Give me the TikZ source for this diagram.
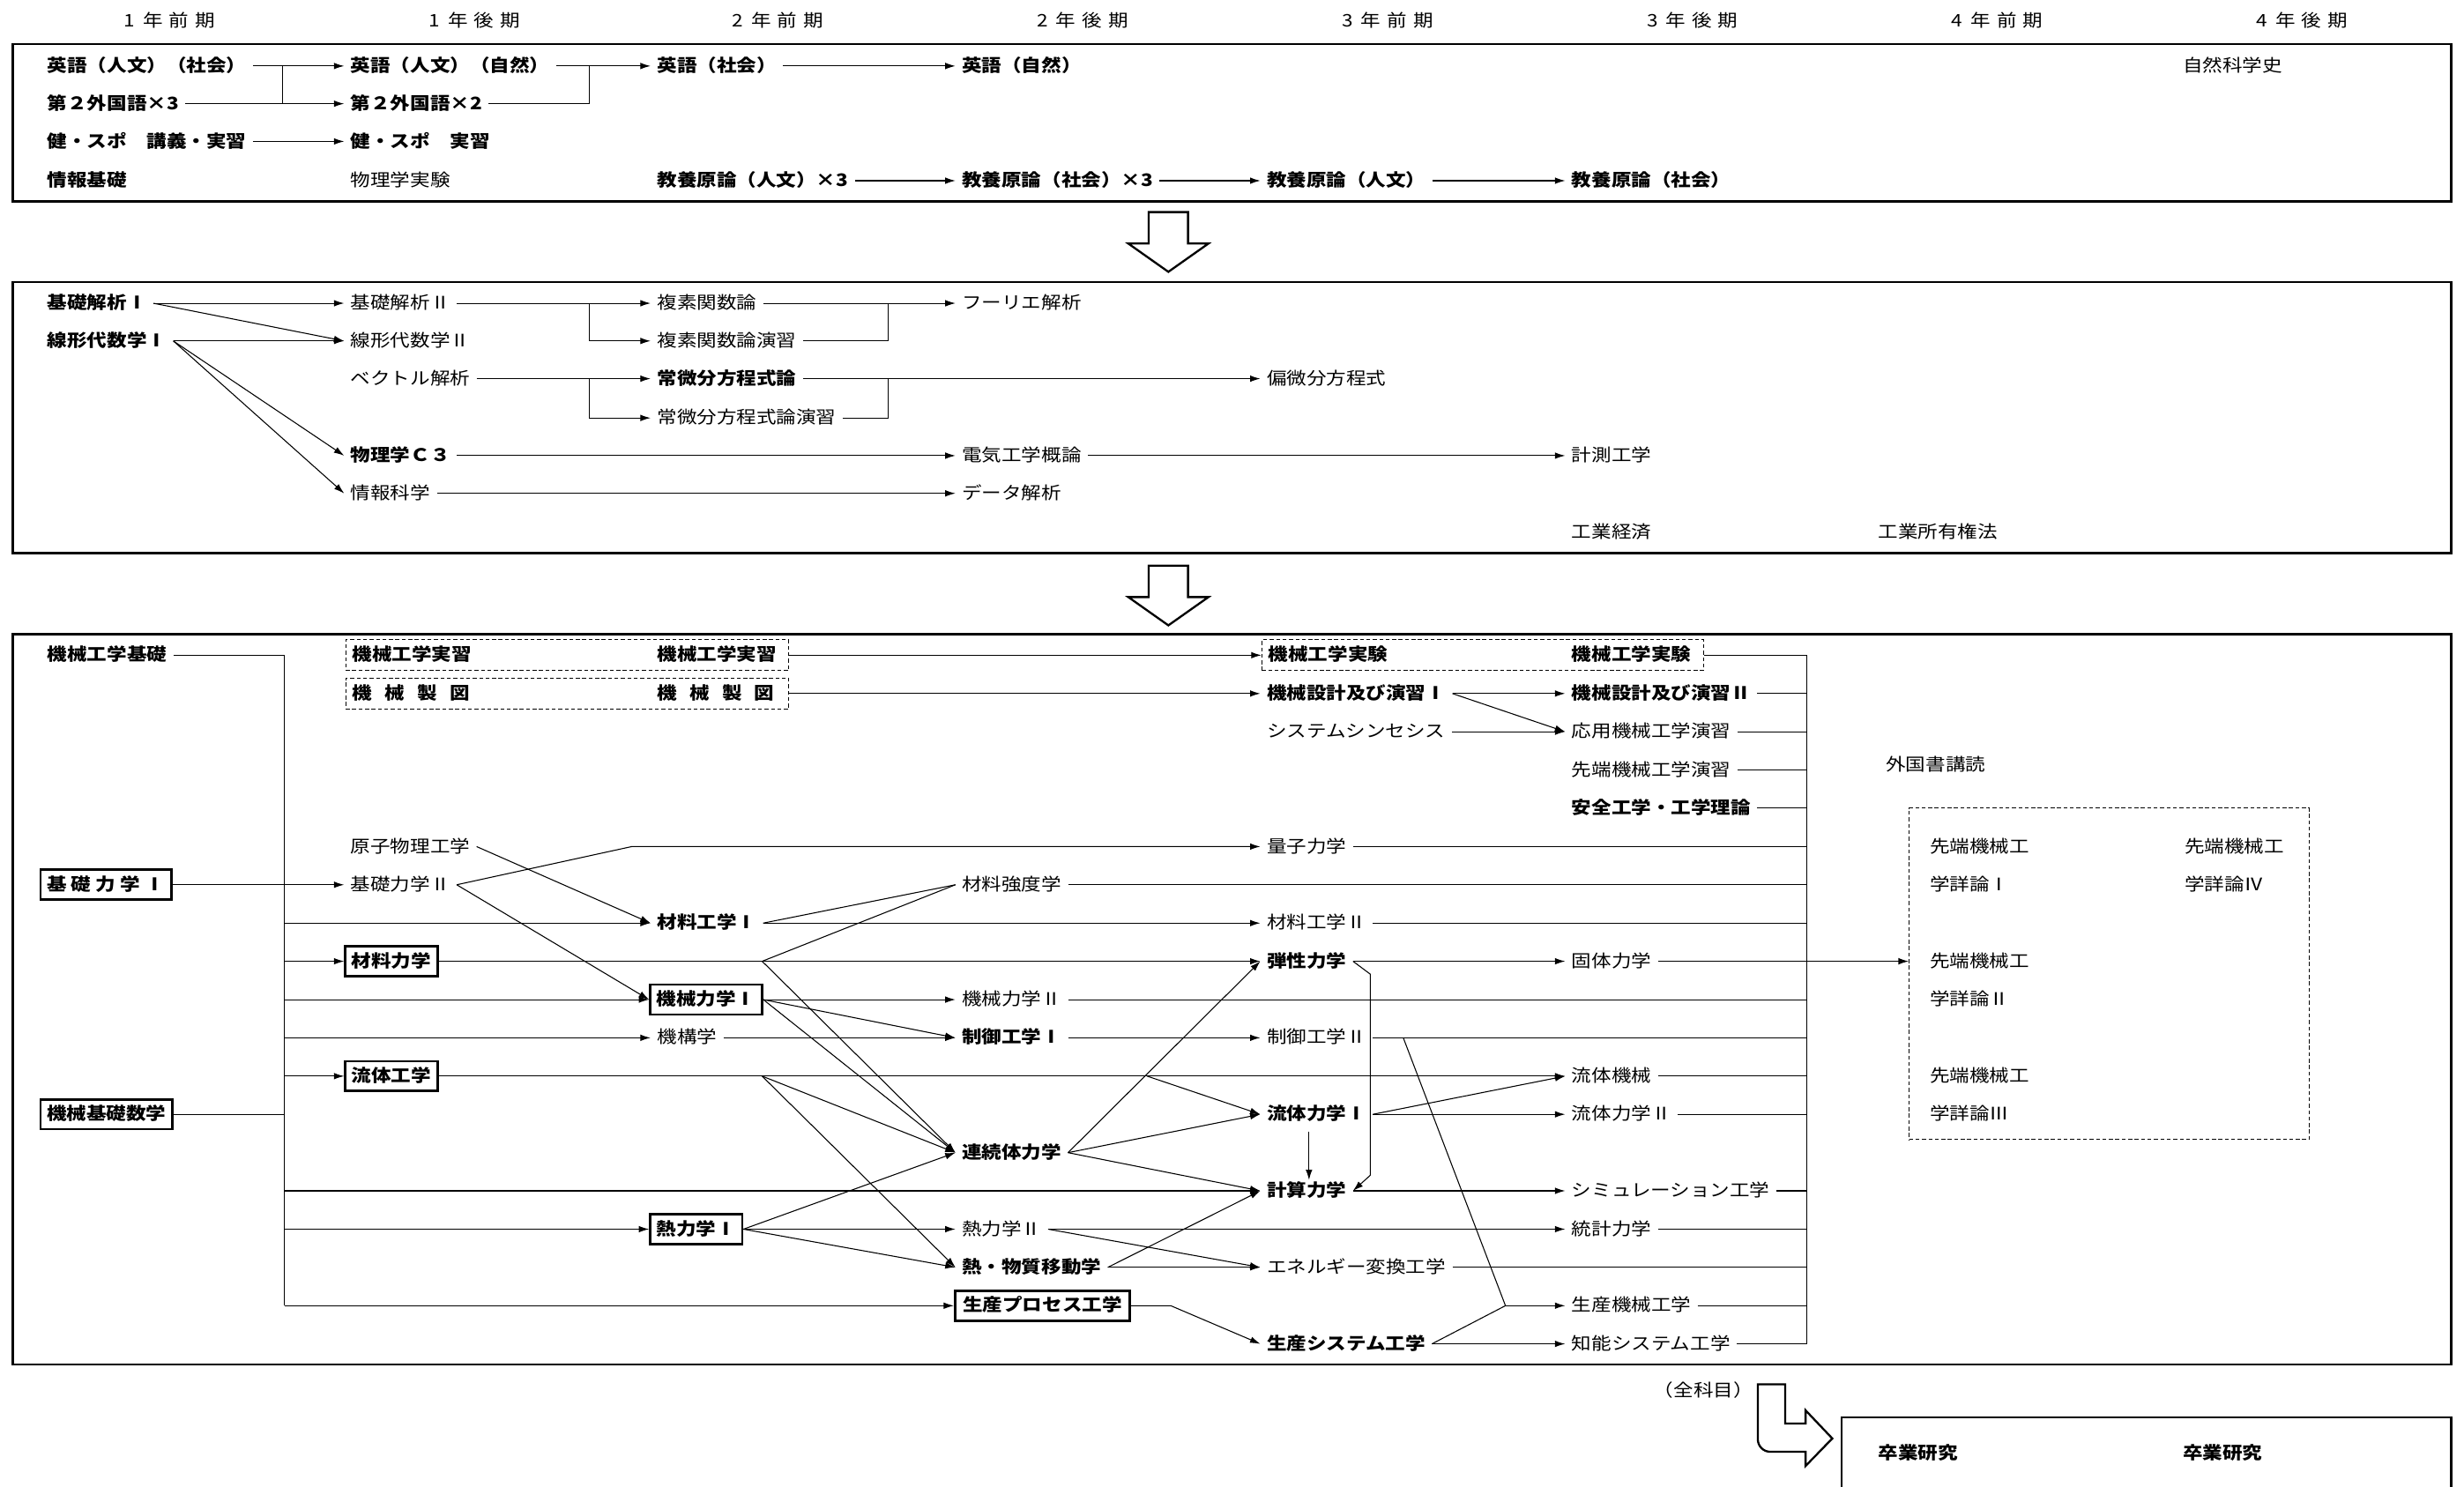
\documentclass[tikz,border=0pt]{standalone}
\usepackage{fontspec}
\usetikzlibrary{arrows.meta}
\newfontfamily\jpfam[FakeStretch=1.15]{Noto Sans CJK JP}
\newcommand\jpR{\jpfam\fontsize{11}{13}\selectfont}
\newcommand\jpB{\jpfam\bfseries\fontsize{11}{13}\selectfont}
\tikzset{
  reg/.style={font=\jpR, anchor=west, text height=9.4pt, text depth=2pt, inner xsep=4pt, inner ysep=0pt},
  bld/.style={reg, font=\jpB},
  bx/.style={bld, draw, line width=1.5pt, inner xsep=4pt, inner ysep=3.8pt},
  hdr/.style={font=\jpR, anchor=center, inner sep=0pt},
  ln/.style={line width=0.6pt},
  arr/.style={ln, -{Latex[length=6.5pt,width=4.2pt]}},
  frame/.style={line width=1.5pt},
  dbox/.style={draw, line width=0.6pt, dash pattern=on 2.5pt off 1.6pt, inner sep=0pt},
  hollow/.style={line width=1.3pt, line join=miter},
}
\begin{document}
\begin{tikzpicture}[x=1pt,y=-1pt]
\useasboundingbox (0,0) rectangle (1568,946);
\fill[white] (0,0) rectangle (1568,946);
% headers
\node[hdr] (h1) at (108,13) {1\hspace{5pt}年\hspace{4pt}前\hspace{4pt}期};
\node[hdr] (h2) at (302,13) {1\hspace{5pt}年\hspace{4pt}後\hspace{4pt}期};
\node[hdr] (h3) at (495,13) {2\hspace{5pt}年\hspace{4pt}前\hspace{4pt}期};
\node[hdr] (h4) at (689,13) {2\hspace{5pt}年\hspace{4pt}後\hspace{4pt}期};
\node[hdr] (h5) at (883,13) {3\hspace{5pt}年\hspace{4pt}前\hspace{4pt}期};
\node[hdr] (h6) at (1077,13) {3\hspace{5pt}年\hspace{4pt}後\hspace{4pt}期};
\node[hdr] (h7) at (1271,13) {4\hspace{5pt}年\hspace{4pt}前\hspace{4pt}期};
\node[hdr] (h8) at (1465,13) {4\hspace{5pt}年\hspace{4pt}後\hspace{4pt}期};
% frames
\draw[frame] (8,28) rectangle (1560,128);
\draw[frame] (8,179.5) rectangle (1560,352);
\draw[frame] (8,403.5) rectangle (1560,868.5);
\draw[frame] (1172,952) -- (1172,902) -- (1560,902) -- (1560,952);
% hollow arrows
\draw[hollow] (731,135) -- (756,135) -- (756,155) -- (769,155) -- (743.5,173) -- (718,155) -- (731,155) -- cycle;
\draw[hollow] (731,360) -- (756,360) -- (756,380) -- (769,380) -- (743.5,398) -- (718,380) -- (731,380) -- cycle;
\draw[hollow] (1149,924) [rounded corners=8pt] -- (1118.6,924) -- (1118.6,900) [sharp corners] -- (1118.6,881) -- (1136,881) -- (1136,906) -- (1149,906) -- (1149,897.6) -- (1166,915.5) -- (1149,933) -- cycle;
\node[reg, anchor=center] (zen) at (1084,885) {（全科目）};
\node[bld] (sot1) at (1191,925) {卒業研究};
\node[bld] (sot2) at (1385,925) {卒業研究};

% ===== box 1 =====
\node[bld] (e1) at (26,42) {英語（人文）（社会）};
\node[bld] (e2) at (219,42) {英語（人文）（自然）};
\node[bld] (e3) at (414,42) {英語（社会）};
\node[bld] (e4) at (608,42) {英語（自然）};
\node[reg] (shizen) at (1385,42) {自然科学史};
\node[bld] (gai3) at (26,66) {第２外国語×3};
\node[bld] (gai2) at (219,66) {第２外国語×2};
\node[bld] (ks1) at (26,90) {健・スポ　講義・実習};
\node[bld] (ks2) at (219,90) {健・スポ　実習};
\node[bld] (joho) at (26,115) {情報基礎};
\node[reg] (butsu) at (219,115) {物理学実験};
\node[bld] (ky1) at (414,115) {教養原論（人文）×3};
\node[bld] (ky2) at (608,115) {教養原論（社会）×3};
\node[bld] (ky3) at (802,115) {教養原論（人文）};
\node[bld] (ky4) at (996,115) {教養原論（社会）};
\coordinate (V5a) at (180,42);
\coordinate (V5b) at (180,66);
\coordinate (V6) at (375,42);
\draw[arr] (e1.east) -- (e2.west);
\draw[arr] (gai3.east) -- (gai2.west);
\draw[ln] (V5a) -- (V5b);
\draw[arr] (e2.east) -- (e3.west);
\draw[ln] (gai2.east) -| (V6);
\draw[arr] (e3.east) -- (e4.west);
\draw[arr] (ks1.east) -- (ks2.west);
\draw[arr] (ky1.east) -- (ky2.west);
\draw[arr] (ky2.east) -- (ky3.west);
\draw[arr] (ky3.east) -- (ky4.west);

% ===== box 2 =====
\node[bld] (ka1) at (26,193) {基礎解析Ⅰ};
\node[bld] (se1) at (26,217) {線形代数学Ⅰ};
\node[reg] (ka2) at (219,193) {基礎解析Ⅱ};
\node[reg] (se2) at (219,217) {線形代数学Ⅱ};
\node[reg] (vec) at (219,241) {ベクトル解析};
\node[bld] (phc) at (219,290) {物理学Ｃ３};
\node[reg] (jk) at (219,314) {情報科学};
\node[reg] (fk) at (414,193) {複素関数論};
\node[reg] (fke) at (414,217) {複素関数論演習};
\node[bld] (jb) at (414,241) {常微分方程式論};
\node[reg] (jbe) at (414,266) {常微分方程式論演習};
\node[reg] (fo) at (608,193) {フーリエ解析};
\node[reg] (den) at (608,290) {電気工学概論};
\node[reg] (data) at (608,314) {データ解析};
\node[reg] (hen) at (802,241) {偏微分方程式};
\node[reg] (kei) at (996,290) {計測工学};
\node[reg] (kk) at (996,339) {工業経済};
\node[reg] (kks) at (1191,339) {工業所有権法};
\coordinate (V1) at (375,193);
\coordinate (V2) at (565,193);
\coordinate (V3) at (375,241);
\coordinate (V4) at (565,241);
\draw[arr] (ka1.east) -- (ka2.west);
\draw[arr] (ka1.east) -- (se2.west);
\draw[arr] (se1.east) -- (se2.west);
\draw[arr] (se1.east) -- (phc.west);
\draw[arr] (se1.east) -- (jk.west);
\draw[arr] (ka2.east) -- (fk.west);
\draw[arr] (V1) |- (fke.west);
\draw[arr] (fk.east) -- (fo.west);
\draw[ln] (fke.east) -| (V2);
\draw[arr] (vec.east) -- (jb.west);
\draw[arr] (V3) |- (jbe.west);
\draw[arr] (jb.east) -- (hen.west);
\draw[ln] (jbe.east) -| (V4);
\draw[arr] (phc.east) -- (den.west);
\draw[arr] (den.east) -- (kei.west);
\draw[arr] (jk.east) -- (data.west);

% ===== box 3 =====
\node[bld] (kkk) at (26,417) {機械工学基礎};
\node[dbox, minimum width=282pt, minimum height=19.5pt] (db1) at (361,417) {};
\node[dbox, minimum width=282pt, minimum height=19.5pt] (db2) at (361,441.4) {};
\node[dbox, minimum width=281pt, minimum height=19.5pt] (db3) at (943.5,417) {};
\node[bld] (js1) at (220,417) {機械工学実習};
\node[bld] (js2) at (414,417) {機械工学実習};
\node[bld] (sz1) at (220,441.4) {機\hspace{8pt}械\hspace{8pt}製\hspace{8pt}図};
\node[bld] (sz2) at (414,441.4) {機\hspace{8pt}械\hspace{8pt}製\hspace{8pt}図};
\node[bld] (jk1) at (803,417) {機械工学実験};
\node[bld] (jk2) at (996,417) {機械工学実験};
\node[bld] (sk1) at (802,441.4) {機械設計及び演習Ⅰ};
\node[bld] (sk2) at (996,441.4) {機械設計及び演習Ⅱ};
\node[reg] (sys) at (802,465.7) {システムシンセシス};
\node[reg] (ouyou) at (996,465.7) {応用機械工学演習};
\node[reg] (sentanE) at (996,490.1) {先端機械工学演習};
\node[reg] (gsk) at (1196,487) {外国書講読};
\node[bld] (anzen) at (996,514.4) {安全工学・工学理論};
\node[reg] (genshi) at (219,538.8) {原子物理工学};
\node[reg] (ryoushi) at (802,538.8) {量子力学};
\node[bx] (kr1) at (25,563.1) {基\hspace{3pt}礎\hspace{3pt}力\hspace{3pt}学\hspace{3pt}Ⅰ};
\node[reg] (kr2) at (219,563.1) {基礎力学Ⅱ};
\node[reg] (kyoudo) at (608,563.1) {材料強度学};
\node[bld] (zk1) at (414,587.5) {材料工学Ⅰ};
\node[reg] (zk2) at (802,587.5) {材料工学Ⅱ};
\node[bx] (zr) at (219,611.8) {材料力学};
\node[bld] (dansei) at (802,611.8) {弾性力学};
\node[reg] (kotai) at (996,611.8) {固体力学};
\node[bx] (km1) at (413,636.2) {機械力学Ⅰ};
\node[reg] (km2) at (608,636.2) {機械力学Ⅱ};
\node[reg] (kikou) at (414,660.5) {機構学};
\node[bld] (sg1) at (608,660.5) {制御工学Ⅰ};
\node[reg] (sg2) at (802,660.5) {制御工学Ⅱ};
\node[bx] (rk) at (219,684.9) {流体工学};
\node[reg] (rkikai) at (996,684.9) {流体機械};
\node[bx] (ksm) at (25,709.2) {機械基礎数学};
\node[bld] (rt1) at (802,709.2) {流体力学Ⅰ};
\node[reg] (rt2) at (996,709.2) {流体力学Ⅱ};
\node[bld] (renz) at (608,733.6) {連続体力学};
\node[bld] (keisan) at (802,757.9) {計算力学};
\node[reg] (sim) at (996,757.9) {シミュレーション工学};
\node[bx] (nr1) at (413,782.3) {熱力学Ⅰ};
\node[reg] (nr2) at (608,782.3) {熱力学Ⅱ};
\node[reg] (touke) at (996,782.3) {統計力学};
\node[bld] (netsu) at (608,806.6) {熱・物質移動学};
\node[reg] (ene) at (802,806.6) {エネルギー変換工学};
\node[bx, inner xsep=5pt] (spk) at (607,831) {生産プロセス工学};
\node[reg] (seikikai) at (996,831) {生産機械工学};
\node[bld] (ssys) at (802,855.3) {生産システム工学};
\node[reg] (chinou) at (996,855.3) {知能システム工学};
% advanced box
\node[dbox, minimum width=254.4pt, minimum height=211pt, anchor=north west] (sentan) at (1214.6,514) {};
\node[reg] (sa1) at (1224,538.8) {先端機械工};
\node[reg] (sb1) at (1224,563.1) {学詳論Ⅰ};
\node[reg] (sa4) at (1386,538.8) {先端機械工};
\node[reg] (sb4) at (1386,563.1) {学詳論Ⅳ};
\node[reg] (sa2) at (1224,611.8) {先端機械工};
\node[reg] (sb2) at (1224,636.2) {学詳論Ⅱ};
\node[reg] (sa3) at (1224,684.9) {先端機械工};
\node[reg] (sb3) at (1224,709.2) {学詳論Ⅲ};

\coordinate (LBt) at (181,417);
\coordinate (LBb) at (181,831);
\coordinate (RBt) at (1150,417);
\coordinate (RBb) at (1150,855.3);
\coordinate (J1) at (402,538.8);
\coordinate (J2) at (485,611.8);
\coordinate (J3) at (485,684.9);
\coordinate (J4) at (730,684.9);
\coordinate (J5) at (958,831);
\coordinate (J6) at (893,660.5);
\coordinate (D1) at (872,620);
\coordinate (D2) at (872,748);
\coordinate (P1) at (745,831);
\coordinate (VX) at (833,700);

% left bus
\draw[ln] (kkk.east) -- (LBt) -- (LBb);
\draw[arr] (LBb) -- (spk.west);
\draw[ln] (ksm.east) -- (ksm.east -| LBt);
\foreach \t in {zk1,zr,km1,kikou,rk,keisan,nr1}
  \draw[arr] (LBt |- \t.west) -- (\t.west);
% right bus
\draw[ln] (RBt) -- (RBb);
\draw[ln] (db3.east) -- (db3.east -| RBt);
\foreach \t in {sk2,ouyou,sentanE,anzen,ryoushi,kyoudo,zk2,km2,sg2,rkikai,rt2,sim,touke,ene,seikikai,chinou}
  \draw[ln] (\t.east) -- (\t.east -| RBt);
\draw[arr] (kotai.east) -- (kotai.east -| sentan.west);
% practice / design
\draw[arr] (db1.east) -- (db3.west);
\draw[arr] (db2.east) -- (sk1.west);
\draw[arr] (sk1.east) -- (sk2.west);
\draw[arr] (sk1.east) -- (ouyou.west);
\draw[arr] (sys.east) -- (ouyou.west);
% mechanics network
\draw[arr] (kr1.east) -- (kr2.west);
\draw[arr] (kr2.east) -- (J1) -- (ryoushi.west);
\draw[arr] (kr2.east) -- (km1.west);
\draw[arr] (genshi.east) -- (zk1.west);
\draw[arr] (zk1.east) -- (zk2.west);
\draw[ln] (zk1.east) -- (kyoudo.west);
\draw[ln] (J2) -- (kyoudo.west);
\draw[arr] (zr.east) -- (dansei.west);
\draw[arr] (J2) -- (renz.west);
\draw[arr] (km1.east) -- (km2.west);
\draw[arr] (km1.east) -- (sg1.west);
\draw[arr] (km1.east) -- (renz.west);
\draw[arr] (kikou.east) -- (sg1.west);
\draw[arr] (sg1.east) -- (sg2.west);
\draw[arr] (rk.east) -- (rkikai.west);
\draw[arr] (J3) -- (renz.west);
\draw[arr] (J3) -- (netsu.west);
\draw[arr] (J4) -- (rt1.west);
\draw[arr] (renz.east) -- (dansei.west);
\draw[arr] (renz.east) -- (rt1.west);
\draw[arr] (renz.east) -- (keisan.west);
\draw[arr] (dansei.east) -- (kotai.west);
\draw[arr] (dansei.east) -- (D1) -- (D2) -- (keisan.east);
\draw[arr] (rt1.east) -- (rkikai.west);
\draw[arr] (rt1.east) -- (rt2.west);
\draw[arr, shorten <=5pt, shorten >=1pt] (rt1.south -| VX) -- (keisan.north -| VX);
\draw[arr] (keisan.east) -- (sim.west);
\draw[arr] (nr1.east) -- (nr2.west);
\draw[arr] (nr1.east) -- (renz.west);
\draw[arr] (nr1.east) -- (netsu.west);
\draw[arr] (nr2.east) -- (touke.west);
\draw[arr] (nr2.east) -- (ene.west);
\draw[arr] (netsu.east) -- (ene.west);
\draw[arr] (netsu.east) -- (keisan.west);
\draw[arr] (spk.east) -- (P1) -- (ssys.west);
\draw[ln] (J6) -- (J5);
\draw[ln] (ssys.east) -- (J5);
\draw[arr] (J5) -- (seikikai.west);
\draw[arr] (ssys.east) -- (chinou.west);
\end{tikzpicture}
\end{document}
